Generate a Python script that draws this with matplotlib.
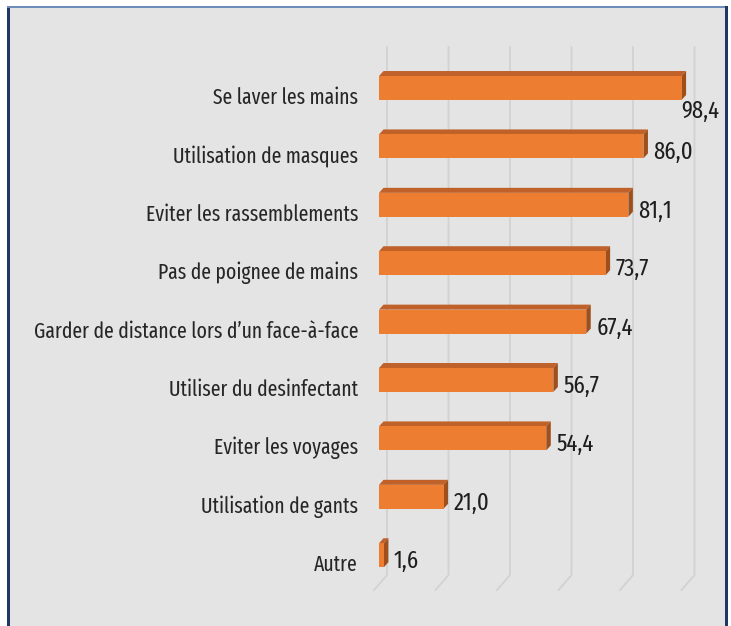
import matplotlib
matplotlib.use("Agg")
import matplotlib.pyplot as plt
from matplotlib import font_manager
from matplotlib.patches import Polygon, Rectangle
from matplotlib.lines import Line2D
from matplotlib.transforms import offset_copy, IdentityTransform

categories = ["Se laver les mains", "Utilisation de masques", "Eviter les rassemblements",
              "Pas de poignee de mains", "Garder de distance lors d\u2019un face-\u00e0-face",
              "Utiliser du desinfectant", "Eviter les voyages", "Utilisation de gants", "Autre"]
values = [98.4, 86.0, 81.1, 73.7, 67.4, 56.7, 54.4, 21.0, 1.6]
value_labels = ["98,4", "86,0", "81,1", "73,7", "67,4", "56,7", "54,4", "21,0", "1,6"]
grid_ticks = [0, 20, 40, 60, 80, 100]

names = {f.name for f in font_manager.fontManager.ttflist}
FONT = "DejaVu Sans"
for cand in ["Fira Sans Extra Condensed", "Fira Sans Condensed", "PT Sans Narrow",
             "Open Sans Condensed", "Roboto Condensed", "Archivo Narrow",
             "Asap Condensed", "Barlow Condensed", "Carlito"]:
    if cand in names:
        FONT = cand
        break

W, H = 731, 626
fig = plt.figure(figsize=(W / 100, H / 100), dpi=100)
fig.patch.set_facecolor("white")
ID = IdentityTransform()

# panel with border
fig.add_artist(Rectangle((9 / W, 0), (725 - 9) / W, (H - 7) / H, transform=fig.transFigure,
                         facecolor="#e4e4e4", edgecolor="none", zorder=-3))
fig.add_artist(Rectangle((7 / W, 0), 3 / W, (H - 6) / H, transform=fig.transFigure,
                         facecolor="#1f3864", edgecolor="none", zorder=-2))
fig.add_artist(Rectangle((7 / W, (H - 7.5) / H), (728 - 7) / W, 1.8 / H, transform=fig.transFigure,
                         facecolor="#6f8bb8", edgecolor="none", zorder=-2))
fig.add_artist(Rectangle((724.5 / W, 0), 3.5 / W, (H - 6) / H, transform=fig.transFigure,
                         facecolor="#1f3864", edgecolor="none", zorder=-2))

ax_left, ax_right, ax_top, ax_bot = 379, 700, 40, 600
ax = fig.add_axes([ax_left / W, (H - ax_bot) / H, (ax_right - ax_left) / W, (ax_bot - ax_top) / H])
ax.set_axis_off()
px_per_unit = 3.075
row = 58.4
ax.set_xlim(0, (ax_right - ax_left) / px_per_unit)
ax.set_ylim((ax_bot - 88) / row, (ax_top - 88) / row)

fig.canvas.draw()
T = ax.transData

def disp(x, y):
    return T.transform((x, y))

# gridlines (back wall + floor slant)
for g in grid_ticks:
    x0, ytop = disp(g, -0.70)
    _, ybot = disp(g, 8.34)
    xs = [x0 + 8, x0 + 8, x0 - 5]
    ys = [ytop, ybot, ybot - 15]
    ax.add_line(Line2D(xs, ys, transform=ID, color="#d2d2d2", lw=1.3, zorder=1, clip_on=False))

bh = 0.41
dx, dy = 4.5, 5.0
ypos = list(range(len(categories)))
ax.barh(ypos, values, height=bh, left=0, color="#ED7D31", edgecolor="none", zorder=5)

for i, v in enumerate(values):
    xl, yt = disp(0, i - bh / 2)
    xr, yb = disp(v, i + bh / 2)
    ax.add_patch(Polygon([(xl, yt), (xr, yt), (xr + dx, yt + dy), (xl + dx, yt + dy)], closed=True,
                         transform=ID, facecolor="#c0612a", edgecolor="none", zorder=4, clip_on=False))
    ax.add_patch(Polygon([(xr, yt), (xr, yb), (xr + dx, yb + dy), (xr + dx, yt + dy)], closed=True,
                         transform=ID, facecolor="#9e4f1c", edgecolor="none", zorder=4, clip_on=False))

# font size chosen so the longest label spans the reference width (~324 px)
probe = fig.text(0, 0, categories[4], fontsize=20, family=FONT)
wpx = probe.get_window_extent(renderer=fig.canvas.get_renderer()).width
probe.remove()
fs = 20 * 324.0 / wpx
fs = min(fs, 20)
fs_val = fs * 1.15

for i, c in enumerate(categories):
    tr = offset_copy(T, fig=fig, x=-21, y=-16, units="dots")
    ax.text(0, i, c, transform=tr, ha="right", va="baseline", fontsize=fs,
            family=FONT, color="#262626", clip_on=False, zorder=6)

for i, (v, lab) in enumerate(zip(values, value_labels)):
    if i == 0:
        tr = offset_copy(T, fig=fig, x=0, y=-30, units="dots")
    else:
        tr = offset_copy(T, fig=fig, x=10, y=-13, units="dots")
    ax.text(v, i, lab, transform=tr, ha="left", va="baseline", fontsize=fs_val,
            family=FONT, color="#1e1e1e", clip_on=False, zorder=6)

fig.savefig("out.png", dpi=100, facecolor=fig.get_facecolor())
